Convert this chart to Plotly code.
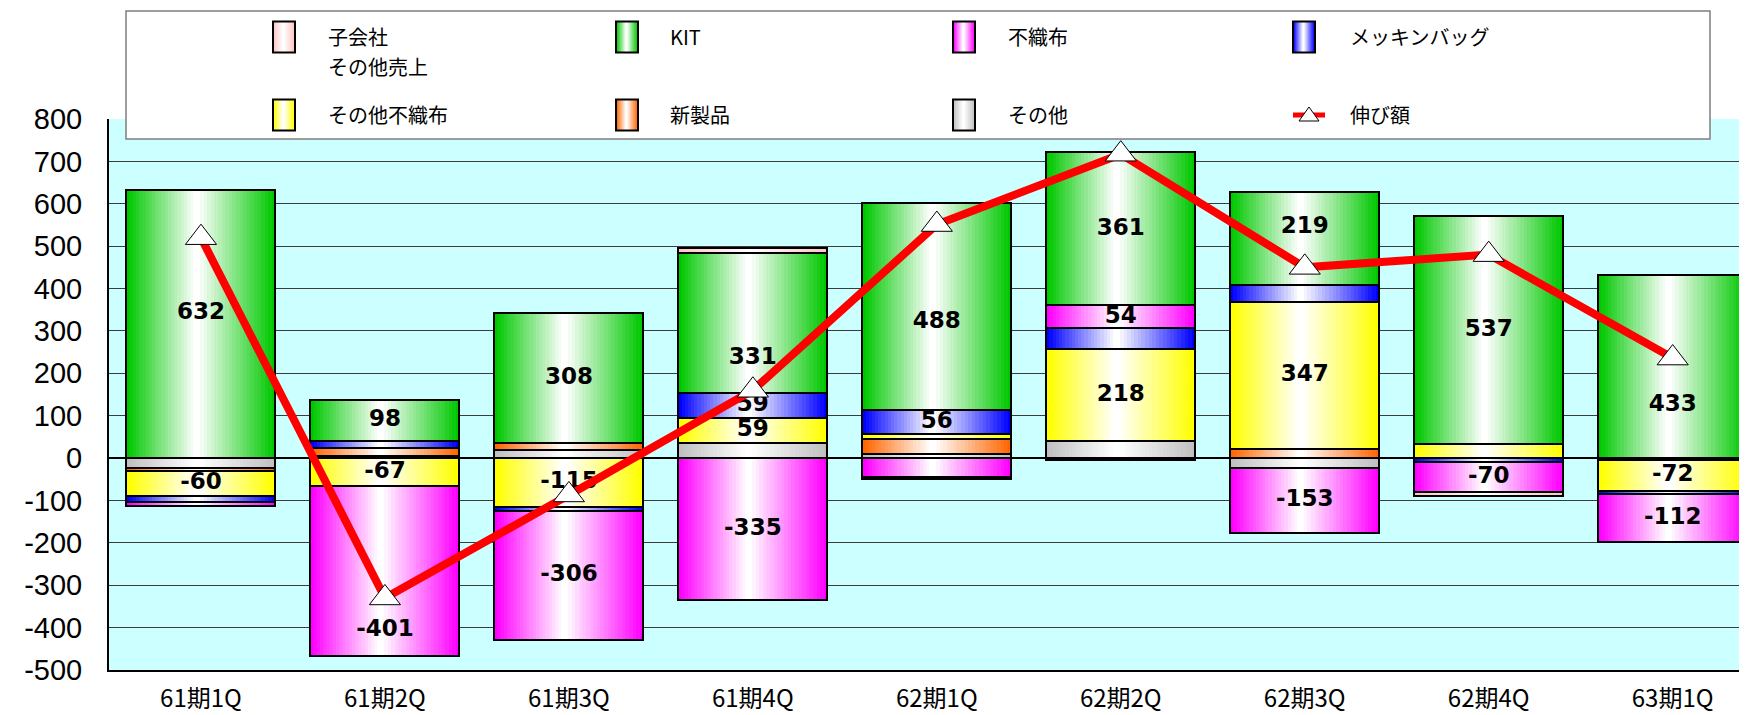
import plotly.graph_objects as go

# ---------------- data ----------------
categories = ["61期1Q", "61期2Q", "61期3Q", "61期4Q", "62期1Q",
              "62期2Q", "62期3Q", "62期4Q", "63期1Q"]

# series in stacking order (first = closest to zero)
sonota = [-24, 5, 18, 36, 9, 40, -24, 0, -5]                 # その他
shinseihin = [-6, 19, 17, 0, 35, -4, 22, 0, 0]                # 新製品
sonota_fushokufu = [-60, -67, -115, 59, 13, 218, 347, 33, -72]  # その他不織布
mekkin_bag = [-14, 16, -9, 59, 56, 48, 39, -10, -8]           # メッキンバッグ
fushokufu = [-8, -401, -306, -335, -44, 54, -153, -70, -112]  # 不織布
kit = [632, 98, 308, 331, 488, 361, 219, 537, 433]            # KIT
kogaisha = [0, 0, 0, 10, -6, 0, 0, -10, 0]                    # 子会社その他売上
nobigaku = [520, -330, -87, 160, 551, 717, 450, 480, 236]     # 伸び額

ytick_vals = [-500, -400, -300, -200, -100, 0, 100, 200, 300, 400, 500, 600, 700, 800]
ytick_text = ["-500", "-400", "-300", "-200", "-100", "0", "100", "200",
              "300", "400", "500", "600", "700", "800"]

LABEL_MIN = 50

series = [
    ("その他", sonota, "#c0c0c0"),
    ("新製品", shinseihin, "#ff6600"),
    ("その他不織布", sonota_fushokufu, "#ffff00"),
    ("メッキンバッグ", mekkin_bag, "#0000ff"),
    ("不織布", fushokufu, "#ff00ff"),
    ("KIT", kit, "#00c800"),
    ("子会社その他売上", kogaisha, "#ffc4c4"),
]
colors = {name: col for name, _, col in series}

# manual label nudges (value units), as placed in the original chart
label_nudge = {
    ("KIT", "61期1Q"): 26,
    ("KIT", "61期4Q"): -85,
    ("KIT", "62期1Q"): -36,
    ("KIT", "62期3Q"): 26,
    ("KIT", "63期1Q"): -92,
    ("不織布", "61期2Q"): -138,
}


def mix(hexc, t):
    hexc = hexc.lstrip("#")
    r, g, b = int(hexc[0:2], 16), int(hexc[2:4], 16), int(hexc[4:6], 16)
    r = round(r + (255 - r) * t)
    g = round(g + (255 - g) * t)
    b = round(b + (255 - b) * t)
    return f"rgb({r},{g},{b})"


# ---------------- layout geometry ----------------
OFF = 8                      # page body margin
W, H = 1747 - OFF, 715 - OFF
ML, MR, MT, MB = 101, 0, 111, 45
PW, PH = W - ML - MR, H - MT - MB


def pxx(x):   # viewport px -> paper
    return (x - OFF - ML) / PW


def pxy(y):
    return (H - MB - (y - OFF)) / PH


BAR_W = 0.81
HL = 0.47      # position of the white highlight across the bar
NLEV = 22

fig = go.Figure()

pos = [0] * len(categories)
neg = [0] * len(categories)
label_x, label_y, label_t = [], [], []
for name, vals, col in series:
    bases = []
    for i, v in enumerate(vals):
        if v >= 0:
            bases.append(pos[i])
            pos[i] += v
        else:
            bases.append(neg[i])
            neg[i] += v
        if abs(v) >= LABEL_MIN:
            label_x.append(categories[i])
            label_y.append(bases[i] + v / 2 + label_nudge.get((name, categories[i]), 0))
            label_t.append(str(v))
    yv = [v if v != 0 else None for v in vals]
    for k in range(NLEV):
        t = k / NLEV
        c = mix(col, k / (NLEV - 1))
        fig.add_trace(go.Bar(
            x=categories, y=yv, base=bases,
            width=BAR_W * (1 - t), offset=-BAR_W / 2 + t * HL * BAR_W,
            marker=dict(color=c, line=dict(width=0)),
            hoverinfo="skip", showlegend=False,
        ))
    fig.add_trace(go.Bar(
        x=categories, y=yv, base=bases, name=name,
        width=BAR_W, offset=-BAR_W / 2,
        marker=dict(color="rgba(0,0,0,0)", line=dict(color="black", width=2)),
        showlegend=False,
    ))

fig.add_trace(go.Scatter(
    x=label_x, y=label_y, text=label_t, mode="text",
    textposition="middle center",
    textfont=dict(family="DejaVu Sans", size=23, color="black", weight="bold"),
    hoverinfo="skip", showlegend=False,
))

fig.add_trace(go.Scatter(
    x=categories, y=nobigaku, mode="lines+markers", name="伸び額",
    line=dict(color="#ff0000", width=8),
    marker=dict(symbol="triangle-up", size=27, color="white",
                line=dict(color="black", width=1)),
    showlegend=False,
))

# ---------------- manual legend ----------------
shapes = []
annotations = []
shapes.append(dict(type="rect", xref="paper", yref="paper",
                   x0=pxx(126), x1=pxx(1710), y0=pxy(139), y1=pxy(11),
                   fillcolor="white", line=dict(color="#7f7f7f", width=1.5),
                   layer="above"))

col_swatch = [273, 616, 953, 1293]
col_text = [326, 668, 1006, 1348]
row_y = [37, 115]
legend_items = [
    ("子会社その他売上", 0, 0), ("KIT", 0, 1), ("不織布", 0, 2), ("メッキンバッグ", 0, 3),
    ("その他不織布", 1, 0), ("新製品", 1, 1), ("その他", 1, 2), ("伸び額", 1, 3),
]
SW_W, SW_H, SW_LEV = 22, 31, 10
font = dict(family="Noto Sans CJK JP", size=20, color="black")
for name, r, cidx in legend_items:
    cy = row_y[r]
    x0 = col_swatch[cidx]
    if name == "伸び額":
        shapes.append(dict(type="line", xref="paper", yref="paper",
                           x0=pxx(x0), x1=pxx(x0 + 32), y0=pxy(cy), y1=pxy(cy),
                           line=dict(color="#ff0000", width=5), layer="above"))
        cx = x0 + 16
        path = (f"M {pxx(cx - 10)},{pxy(cy + 6)} L {pxx(cx + 10)},{pxy(cy + 6)} "
                f"L {pxx(cx)},{pxy(cy - 8)} Z")
        shapes.append(dict(type="path", xref="paper", yref="paper", path=path,
                           fillcolor="white", line=dict(color="black", width=1),
                           layer="above"))
    else:
        col = colors[name]
        for k in range(SW_LEV):
            t = k / SW_LEV
            shapes.append(dict(type="rect", xref="paper", yref="paper",
                               x0=pxx(x0 + t * HL * SW_W),
                               x1=pxx(x0 + SW_W - t * (1 - HL) * SW_W),
                               y0=pxy(cy + SW_H / 2), y1=pxy(cy - SW_H / 2),
                               fillcolor=mix(col, k / (SW_LEV - 1)),
                               line=dict(width=0), layer="above"))
        shapes.append(dict(type="rect", xref="paper", yref="paper",
                           x0=pxx(x0), x1=pxx(x0 + SW_W),
                           y0=pxy(cy + SW_H / 2), y1=pxy(cy - SW_H / 2),
                           fillcolor="rgba(0,0,0,0)",
                           line=dict(color="black", width=2), layer="above"))
    if name == "子会社その他売上":
        texts = [("子会社", cy), ("その他売上", cy + 30)]
    else:
        texts = [(name, cy)]
    for txt, ty in texts:
        annotations.append(dict(text=txt, x=pxx(col_text[cidx]), y=pxy(ty),
                                xref="paper", yref="paper", xanchor="left",
                                yanchor="middle", showarrow=False, font=font))

fig.update_layout(
    width=W, height=H,
    margin=dict(l=ML, r=MR, t=MT, b=MB, autoexpand=False),
    paper_bgcolor="white", plot_bgcolor="#ccffff",
    barmode="overlay", bargap=0, showlegend=False,
    shapes=shapes, annotations=annotations,
    xaxis=dict(type="category", range=[-0.5, 8.404], showline=True,
               linecolor="black", linewidth=2, showgrid=False,
               ticks="outside", ticklen=6, tickcolor="rgba(0,0,0,0)",
               tickfont=dict(family="Noto Sans CJK JP", size=24, color="black"),
               automargin=False, fixedrange=True),
    yaxis=dict(range=[-500, 800], tickvals=ytick_vals, ticktext=ytick_text,
               showgrid=True, gridcolor="#3c3c3c", gridwidth=1,
               zeroline=True, zerolinecolor="black", zerolinewidth=2,
               showline=True, linecolor="black", linewidth=2,
               ticks="outside", ticklen=19, tickcolor="rgba(0,0,0,0)",
               tickfont=dict(family="Liberation Sans", size=29, color="black"),
               automargin=False, fixedrange=True),
)

fig.write_html("out.html")
